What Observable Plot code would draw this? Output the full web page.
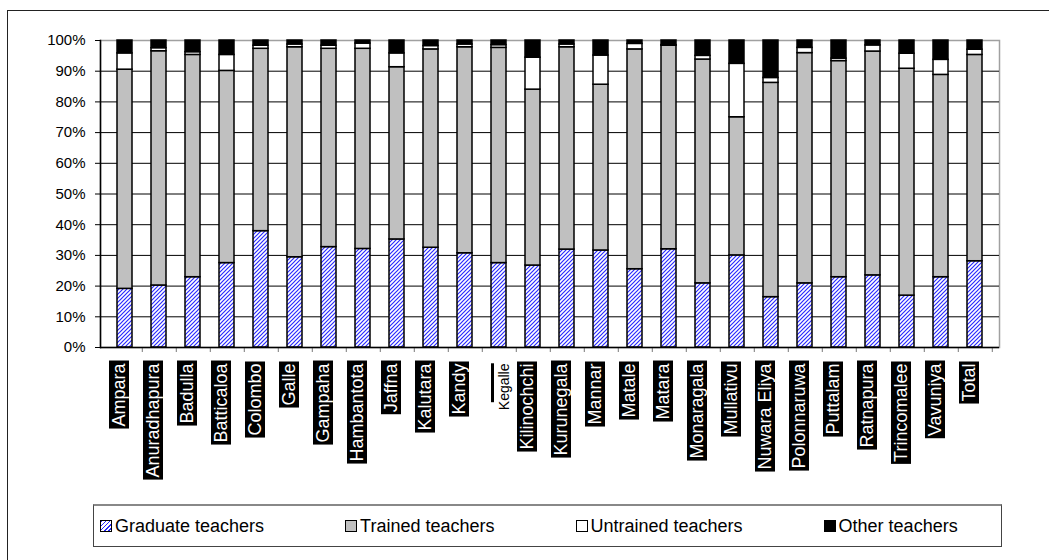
<!DOCTYPE html>
<html><head><meta charset="utf-8">
<script src="https://cdn.jsdelivr.net/npm/d3@7"></script>
<script src="https://cdn.jsdelivr.net/npm/@observablehq/plot@0.6"></script>
<style>
html,body{margin:0;padding:0;width:1049px;height:560px;overflow:hidden;background:#fff;font-family:"Liberation Sans",Arial,sans-serif;}
#frame{position:absolute;left:7px;top:10px;width:1070px;height:580px;border:1.2px solid #222;box-sizing:border-box;}
#chart{position:absolute;left:0;top:0;}
#legend{position:absolute;left:93px;top:504px;width:909px;height:43px;border:1.5px solid #444;border-top:2px solid #888;box-sizing:border-box;display:flex;align-items:center;gap:81px;padding-left:6px;font-size:18px;color:#000;}
.item{display:flex;align-items:center;white-space:nowrap;}
.sw{width:12px;height:12px;border:1.5px solid #000;margin-right:3px;box-sizing:border-box;}
</style></head><body>
<div id="frame"></div><div id="chart"></div><div id="legend"></div>
<script>
const districts = ["Ampara","Anuradhapura","Badulla","Batticaloa","Colombo","Galle","Gampaha","Hambantota","Jaffna","Kalutara","Kandy","Kegalle","Kilinochchi","Kurunegala","Mannar","Matale","Matara","Monaragala","Mullativu","Nuwara Eliya","Polonnaruwa","Puttalam","Ratnapura","Trincomalee","Vavuniya","Total"];
const graduate  = [19.1,20.2,22.9,27.5,37.9,29.4,32.7,32.1,35.2,32.5,30.7,27.5,26.7,31.9,31.6,25.5,32.0,20.9,30.0,16.4,20.9,22.9,23.5,16.9,22.9,28.1];
const trained   = [71.4,76.3,72.4,62.6,59.4,68.4,64.6,65.2,56.1,64.6,67.1,70.1,57.3,65.9,54.0,71.6,66.3,72.9,45.0,69.8,75.0,70.4,72.9,73.9,65.9,67.2];
const untrained = [5.3,1.0,0.9,5.2,1.0,0.9,1.0,1.7,4.5,1.1,0.9,0.9,10.4,0.9,9.5,1.8,0.2,1.2,17.4,1.6,1.7,0.8,2.0,4.9,4.9,1.7];
const other     = [4.2,2.5,3.8,4.7,1.7,1.3,1.7,1.0,4.2,1.8,1.3,1.5,5.6,1.3,4.9,1.1,1.5,5.0,7.6,12.2,2.4,5.9,1.6,4.3,6.3,3.0];
const series = ["Graduate teachers","Trained teachers","Untrained teachers","Other teachers"];
const yTicks = [0,10,20,30,40,50,60,70,80,90,100];

const fills = ["url(#hatch)","#c0c0c0","#ffffff","#000000"];
const values = [graduate, trained, untrained, other];
const data = series.flatMap((s, k) => districts.map((d, i) => ({district: d, series: s, value: values[k][i]})));

const W = 1049, H = 500, ml = 100, mr = 50, mt = 40, mb = 153;
const step = (W - ml - mr) / districts.length;

const chart = Plot.plot({
  width: W, height: H,
  marginLeft: ml, marginRight: mr, marginTop: mt, marginBottom: mb,
  style: {fontFamily: "Liberation Sans, Arial, sans-serif", fontSize: "15px", color: "#000", background: "transparent", overflow: "visible"},
  x: {domain: districts, paddingInner: 0.57, paddingOuter: 0.285, axis: null, label: null},
  y: {domain: [0, 100], axis: null, label: null},
  color: {domain: series, range: fills},
  marks: [
    Plot.frame({stroke: "#a0a0a0", strokeWidth: 1.5}),
    Plot.gridY(yTicks.filter(t => t > 0 && t < 100), {stroke: "#000", strokeOpacity: 1, strokeWidth: 1}),
    Plot.barY(data, {x: "district", y: "value", fill: "series", stroke: "#000", strokeWidth: 1.5}),
    Plot.axisY({ticks: yTicks, tickFormat: d => d + "%", tickSize: 5, tickPadding: 10, stroke: "#000", fontSize: 15, label: null}),
    Plot.axisX({tickSize: 5, tickFormat: () => "", dx: step / 2, stroke: "#777", label: null}),
    Plot.ruleY([0], {stroke: "#000", strokeWidth: 1.5}),
    Plot.frame({anchor: "left", stroke: "#000", strokeWidth: 1.5}),
    Plot.text(districts, {x: d => d, text: d => d, frameAnchor: "bottom", dy: 16, rotate: -90, textAnchor: "end", fill: "#fff", fontSize: 18})
  ]
});
document.getElementById("chart").append(chart);

const svg = d3.select(chart);
const defs = svg.insert("defs", ":first-child");
const pat = defs.append("pattern").attr("id", "hatch").attr("patternUnits", "userSpaceOnUse").attr("width", 4).attr("height", 4);
pat.append("rect").attr("width", 4).attr("height", 4).attr("fill", "#fff");
pat.append("path").attr("d", "M-1,1L1,-1M0,4L4,0M3,5L5,3").attr("stroke", "#2a2aff").attr("stroke-width", 1.2);

svg.selectAll('g[aria-label="text"] text').each(function() {
  const t = d3.select(this);
  if (this.textContent === "Kegalle") {
    t.attr("fill", "#000").attr("font-size", 14).attr("dy", 10);
    const b = this.getBBox();
    d3.select(this.parentNode).insert("rect", () => this)
      .attr("transform", this.getAttribute("transform"))
      .attr("x", b.x + 8).attr("y", b.y - 5).attr("width", b.width - 8).attr("height", 3).attr("fill", "#000");
    return;
  }
  const b = this.getBBox();
  d3.select(this.parentNode).insert("rect", () => this)
    .attr("transform", this.getAttribute("transform"))
    .attr("x", b.x - 2).attr("y", b.y).attr("width", b.width + 4).attr("height", b.height).attr("fill", "#000");
});

const legend = d3.select("#legend");
const swatchBg = ["repeating-linear-gradient(135deg,#2a2aff 0 1px,#fff 1px 3px)", "#c0c0c0", "#fff", "#000"];
series.forEach((s, k) => {
  const it = legend.append("div").attr("class", "item");
  it.append("div").attr("class", "sw").style("background", swatchBg[k]);
  it.append("span").text(s);
});
</script>
</body></html>
